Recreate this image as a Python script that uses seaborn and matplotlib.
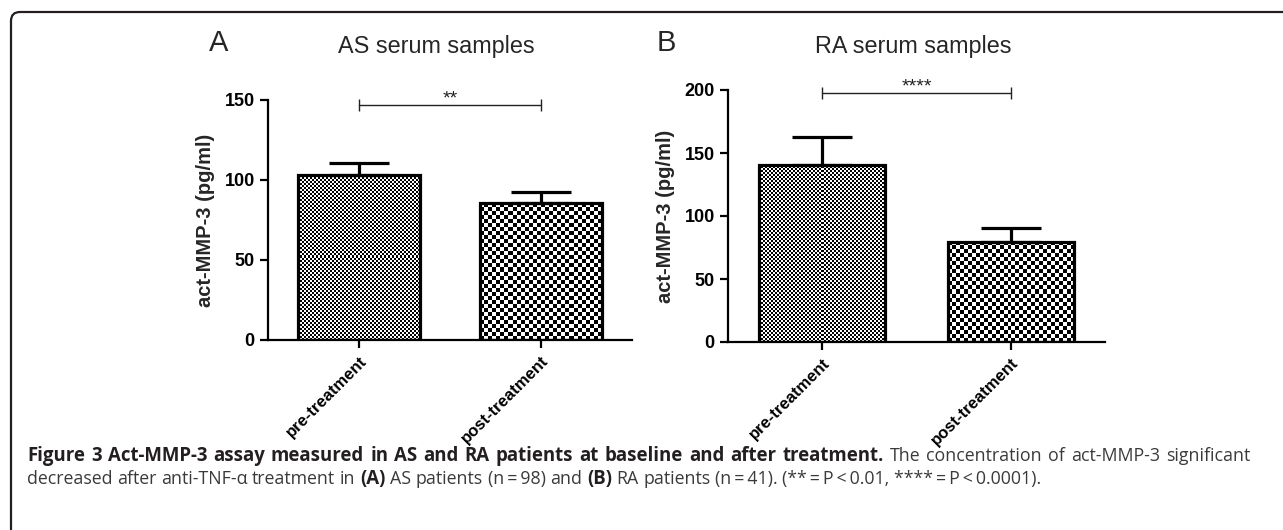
import numpy as np
import pandas as pd
import matplotlib
matplotlib.use("Agg")
import matplotlib.pyplot as plt
import matplotlib.patches as mpatches
import seaborn as sns

# ---------------- data ----------------
categories = ["pre-treatment", "post-treatment"]
as_means = [103.0, 85.6]
as_sem = [7.6, 6.9]
ra_means = [140.5, 79.4]
ra_sem = [22.2, 11.1]
as_sig = "**"
ra_sig = "****"
as_sig_y = 147
ra_sig_y = 197.5
as_yticks = [0, 50, 100, 150]
ra_yticks = [0, 50, 100, 150, 200]
panel_titles = ["AS serum samples", "RA serum samples"]
panel_letters = ["A", "B"]
ylabel = "act-MMP-3 (pg/ml)"
caption_line1 = [("Figure 3 Act-MMP-3 assay measured in AS and RA patients at baseline and after treatment.", True),
                 ("The concentration of act-MMP-3 significant", False)]
caption_line2 = [("decreased after anti-TNF-\u03b1 treatment in", False), ("(A)", True),
                 ("AS patients (n\u2009=\u200998) and", False), ("(B)", True),
                 ("RA patients (n\u2009=\u200941). (**\u2009=\u2009P\u2009<\u20090.01, ****\u2009=\u2009P\u2009<\u20090.0001).", False)]

sns.set_theme(style="ticks")
plt.rcParams["font.family"] = ["Liberation Sans", "DejaVu Sans"]

W, H, DPI = 1283, 530, 100
fig = plt.figure(figsize=(W / DPI, H / DPI), dpi=DPI)

axA = fig.add_axes([268 / W, 1 - 340 / H, (632 - 268) / W, 240 / H])
axB = fig.add_axes([728 / W, 1 - 342 / H, (1105 - 728) / W, 252 / H])

cell_px = [2, 4]  # checker cell size per bar (style)


def checker_fill(ax, patch, cell):
    bb = patch.get_bbox()
    x0, x1, y0, y1 = bb.x0, bb.x1, bb.y0, bb.y1
    p0 = ax.transData.transform((x0, y0))
    p1 = ax.transData.transform((x1, y1))
    nx = max(1, int(round(abs(p1[0] - p0[0]) / cell)))
    ny = max(1, int(round(abs(p1[1] - p0[1]) / cell)))
    ii, jj = np.indices((ny, nx))
    arr = ((ii + jj) % 2).astype(float)
    im = ax.imshow(arr, extent=[x0, x1, y0, y1], cmap="gray", vmin=0, vmax=1,
                   interpolation="nearest", aspect="auto", origin="lower", zorder=1.5)
    im.set_clip_path(patch)


def draw_panel(ax, means, sems, yticks, sig, sig_y):
    df = pd.DataFrame({"group": categories, "value": means})
    sns.barplot(data=df, x="group", y="value", ax=ax, width=0.67, color="white",
                edgecolor="black", linewidth=2.3, errorbar=None, saturation=1)
    ax.set_xlim(-0.5, 1.5)
    ax.set_ylim(yticks[0], yticks[-1])
    ax.set_yticks(yticks)
    for p in ax.patches:
        p.set_facecolor("none")
        p.set_zorder(2)
    for p, c in zip(ax.patches, cell_px):
        checker_fill(ax, p, c)
    ax.errorbar(range(len(means)), means, yerr=[np.zeros(len(sems)), sems], fmt="none",
                ecolor="black", elinewidth=2.3, capsize=21.5, capthick=2.3, zorder=3, clip_on=False)
    # significance bar
    ax.plot([0, 1], [sig_y, sig_y], color="#222222", lw=1.0, clip_on=False,
            marker="|", markersize=9, markeredgewidth=1.0)
    ax.annotate(sig, xy=(0.5, sig_y), xytext=(0, -2), textcoords="offset points",
                ha="center", va="bottom", fontsize=14, color="#222222")
    sns.despine(ax=ax)
    for s in ["left", "bottom"]:
        ax.spines[s].set_linewidth(1.6)
        ax.spines[s].set_color("black")
    ax.tick_params(axis="both", direction="out", length=6, width=1.6, color="black",
                   labelsize=13, labelcolor="black")
    for lab in ax.get_yticklabels():
        lab.set_fontweight("bold")
    ax.set_xticks(range(len(categories)))
    ax.set_xticklabels(categories, rotation=45, ha="right", va="top",
                       rotation_mode="anchor", fontweight="bold", fontsize=12)
    ax.set_xlabel("")
    ax.set_ylabel(ylabel, fontsize=14.5, fontweight="bold", labelpad=7)
    ax.set_title("")
    ax.set_facecolor("none")


draw_panel(axA, as_means, as_sem, as_yticks, as_sig, as_sig_y)
draw_panel(axB, ra_means, ra_sem, ra_yticks, ra_sig, ra_sig_y)

# titles and panel letters (figure coords)
fig.text(436 / W, 1 - 47 / H, panel_titles[0], ha="center", va="center", fontsize=16.8)
fig.text(913 / W, 1 - 47 / H, panel_titles[1], ha="center", va="center", fontsize=16.8)
fig.text(219 / W, 1 - 43 / H, panel_letters[0], ha="center", va="center", fontsize=21)
fig.text(666 / W, 1 - 43 / H, panel_letters[1], ha="center", va="center", fontsize=21)

# frame with rounded top-left corner
frame = mpatches.FancyBboxPatch((11, -60), 3000, H - 12 + 60, boxstyle="round,pad=0,rounding_size=9",
                                transform=None, fill=False, edgecolor="#231f20", lw=1.6)
fig.add_artist(frame)

# caption (line 1 justified, line 2 ragged)
cap_font = ["Open Sans", "DejaVu Sans"]
cap_size = 12.8
cap_size_bold = 13.4
renderer = fig.canvas.get_renderer()


def cap_text(x, y, txt, bold):
    return fig.text(x / W, 1 - y / H, txt, ha="left", va="baseline",
                    fontsize=cap_size_bold if bold else cap_size,
                    family=cap_font, fontweight="bold" if bold else "normal",
                    color="#231f20" if bold else "#3a3a3a")


def measure(txt, bold):
    t = cap_text(0, 0, txt, bold)
    w = t.get_window_extent(renderer=renderer).width
    t.remove()
    return w


def write_line(segments, x_left, y_base, x_right=None):
    words = []
    for txt, bold in segments:
        for wd in txt.split(" "):
            if wd:
                words.append((wd, bold))
    widths = [measure(wd, b) for wd, b in words]
    space = measure("a a", False) - measure("aa", False)
    if x_right is not None and len(words) > 1:
        gap = (x_right - x_left - sum(widths)) / (len(words) - 1)
    else:
        gap = space
    x = x_left
    for (wd, b), w in zip(words, widths):
        cap_text(x, y_base, wd, b)
        x += w + gap


write_line(caption_line1, 27, 461, x_right=1250)
write_line(caption_line2, 27, 484)

fig.savefig("out.png", dpi=DPI)
